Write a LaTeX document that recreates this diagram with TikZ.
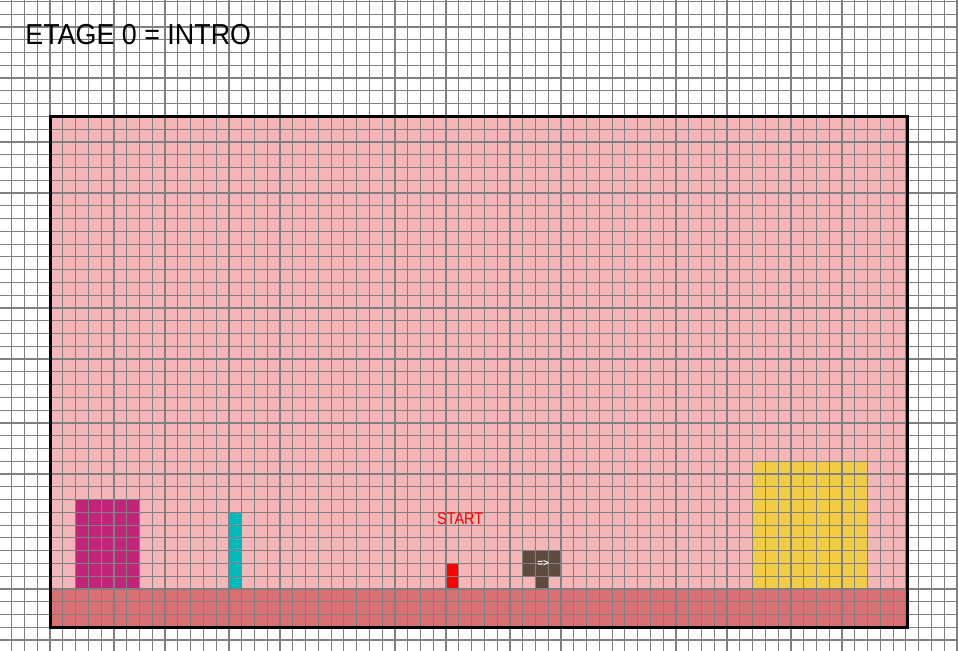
\documentclass[tikz,border=0pt]{standalone}
\usepackage{fontspec}
\setmainfont{Liberation Sans}

\definecolor{roompink}{HTML}{F4B6B8}
\definecolor{floorred}{HTML}{D97074}
\definecolor{doormagenta}{HTML}{C0257A}
\definecolor{polecyan}{HTML}{00B9B9}
\definecolor{startred}{HTML}{FF0000}
\definecolor{signbrown}{HTML}{5E4A3F}
\definecolor{exityellow}{HTML}{F2CB47}
\definecolor{gridgray}{HTML}{808080}

\begin{document}
\begin{tikzpicture}[
    x=12.773bp, y=-12.773bp,
    cell/.style={draw=gridgray, line width=1.2bp},
    wall/.style={draw=black, line width=3bp},
    caption/.style={inner sep=0pt, font=\fontsize{29}{29}\selectfont},
    marker/.style={inner sep=0pt, text=startred, font=\fontsize{17}{17}\selectfont}
]
\useasboundingbox (0.078,-0.11) rectangle (75.08,50.79);
\fill[white] (0.078,-0.11) rectangle (75.08,50.79);

% Room and floor
\fill[roompink] (4,9) rectangle (71.15,49);
\fill[floorred] (4,46) rectangle (71.15,49);

% Blocks
\fill[doormagenta] (6,39) rectangle (11,46);
\fill[polecyan] (18,40) rectangle (19,46);
\fill[startred] (35,44) rectangle (36,46);
\fill[signbrown] (41,43) rectangle (44,45);
\fill[signbrown] (42,45) rectangle (43,46);
\fill[exityellow] (59,36) rectangle (68,46);

% Grid
\foreach \i in {0,...,75} \draw[cell] (\i,-1) -- (\i,51);
\foreach \j in {-1,...,51} \draw[cell] (-1,\j) -- (76,\j);

% Walls
\draw[wall] (4,9) rectangle (71.15,49);

% Labels
\node[caption, anchor=base west] (title) at (2.05,3.41) {\scalebox{0.93}[1]{ETAGE 0 = INTRO}};
\node[marker, anchor=base] (start) at (36.1,40.99) {\scalebox{0.85}[1]{START}};
\node[inner sep=0pt, text=white, font=\bfseries\fontsize{10}{10}\selectfont] (sign) at (42.6,43.98) {=>};

\end{tikzpicture}
\end{document}
